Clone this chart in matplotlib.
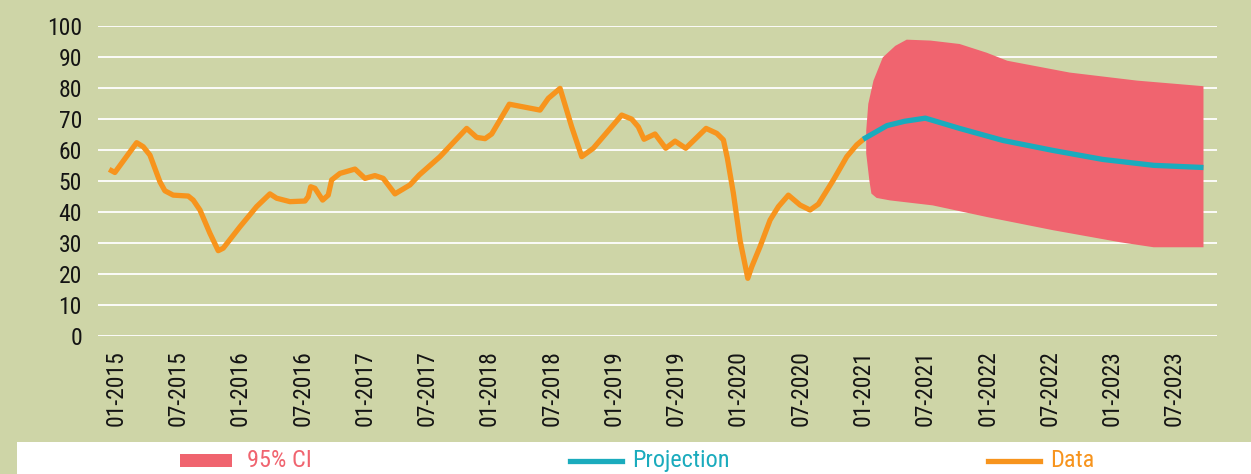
import matplotlib
matplotlib.use("Agg")
import matplotlib.pyplot as plt
from matplotlib import font_manager as fm
from matplotlib.patches import Rectangle
from matplotlib.lines import Line2D
from matplotlib.patheffects import AbstractPathEffect
from matplotlib.transforms import Affine2D

# ── data (months after 01-2015, value) ───────────────────────────────────────
data_month = [-0.65, -0.10, 2.00, 2.63, 3.28, 3.76, 4.24, 4.72, 5.52, 6.97,
              7.45, 8.10, 9.06, 9.86, 10.34, 11.95, 13.56, 14.84, 15.49, 16.77,
              18.22, 18.53, 18.77, 19.18, 19.92, 20.46, 20.79, 21.59, 23.04,
              24.00, 24.96, 25.76, 26.89, 28.34, 29.23, 31.23, 33.80, 34.77,
              35.57, 36.21, 37.91, 40.87, 41.67, 42.80, 43.92, 44.89, 46.00,
              48.74, 49.70, 50.34, 50.89, 51.95, 52.98, 53.88, 54.91, 56.87,
              57.90, 58.54, 58.92, 59.50, 60.14, 60.89, 61.27, 62.07, 63.04,
              63.84, 64.80, 65.93, 66.89, 67.69, 69.14, 70.43, 71.39, 72.03]
data_value = [53.7, 52.7, 62.3, 61.0, 58.3, 54.0, 49.7, 46.8, 45.4, 45.1,
              43.8, 40.6, 33.1, 27.5, 28.3, 35.2, 41.7, 45.8, 44.4, 43.3,
              43.5, 44.9, 48.1, 47.6, 43.8, 45.4, 50.3, 52.4, 53.8,
              50.8, 51.7, 50.8, 45.8, 48.7, 51.9, 57.8, 66.9, 64.0,
              63.6, 65.1, 74.7, 72.8, 76.6, 79.8, 67.4, 57.8, 60.5,
              71.2, 69.9, 67.4, 63.4, 65.1, 60.5, 62.8, 60.5, 66.9,
              65.3, 63.2, 57.3, 46.0, 30.9, 18.6, 22.3, 28.8, 37.4,
              41.7, 45.4, 42.2, 40.6, 42.5, 50.3, 57.8, 61.6, 63.4]

proj_month = [72.0, 74.3, 76.0, 78.0, 81.3, 85.5, 90.3, 95.1, 100.0, 104.8]
proj_value = [63.4, 67.8, 69.2, 70.2, 66.9, 63.0, 59.8, 56.9, 55.0, 54.3]

# 95% CI outline: left edge and upper bound, then lower bound back to the left
ci_upper_month = [72.8, 72.6, 72.3, 72.3, 72.5, 73.0, 73.9, 75.1, 76.2, 78.5,
                  81.3, 83.9, 85.9, 91.9, 98.4, 104.8]
ci_upper_value = [45.9, 50.2, 58.8, 66.2, 74.8, 82.3, 89.8, 93.5, 95.5, 95.2,
                  94.1, 91.3, 88.7, 84.9, 82.3, 80.5]
ci_lower_month = [104.8, 100.0, 96.8, 90.3, 84.0, 78.7, 74.6, 73.3]
ci_lower_value = [28.6, 28.6, 30.2, 34.1, 38.3, 42.1, 43.7, 44.5]

tick_labels = ["01-2015", "07-2015", "01-2016", "07-2016", "01-2017", "07-2017",
               "01-2018", "07-2018", "01-2019", "07-2019", "01-2020", "07-2020",
               "01-2021", "07-2021", "01-2022", "07-2022", "01-2023", "07-2023"]
tick_month = [6 * i for i in range(len(tick_labels))]

# ── style ────────────────────────────────────────────────────────────────────
BG = "#ced5a7"
ORANGE = "#f7941d"
CYAN = "#1aabbd"
RED = "#f0646f"
INK = "#141414"


def condensed_font():
    """Return (family, squeeze factor): a real narrow face if one is installed."""
    names = {f.name for f in fm.fontManager.ttflist}
    for fam in ["Roboto Condensed", "Liberation Sans Narrow", "Open Sans Condensed",
                "Noto Sans Condensed", "Arial Narrow"]:
        if fam in names:
            return fam, 1.0
    return "Liberation Sans", 0.8


class Squeeze(AbstractPathEffect):
    """Narrow the glyphs along the baseline, keeping either end of the text fixed."""

    def __init__(self, sx, keep_end=True):
        super().__init__()
        self.sx = sx
        self.keep_end = keep_end

    def draw_path(self, renderer, gc, tpath, affine, rgbFace=None):
        x0 = tpath.get_extents().x1 if self.keep_end else 0.0
        squeeze = Affine2D().translate(-x0, 0).scale(self.sx, 1).translate(x0, 0)
        renderer.draw_path(gc, tpath, squeeze + affine, rgbFace)


FAMILY, SX = condensed_font()
plt.rcParams["font.family"] = [FAMILY, "DejaVu Sans"]

fig = plt.figure(figsize=(12.51, 4.74), dpi=100, facecolor=BG)
ax = fig.add_axes([0.0783, 0.2911, 0.8945, 0.6547])
ax.set_facecolor(BG)

ax.fill(ci_upper_month + ci_lower_month, ci_upper_value + ci_lower_value,
        color=RED, lw=0, zorder=2)
ax.plot(data_month, data_value, color=ORANGE, lw=3.8,
        solid_joinstyle="round", solid_capstyle="butt", zorder=3)
ax.plot(proj_month, proj_value, color=CYAN, lw=3.8,
        solid_joinstyle="round", solid_capstyle="butt", zorder=4)

ax.set_xlim(-1.73, 106.1)
ax.set_ylim(0, 100)
ax.set_yticks(range(0, 101, 10))
ax.set_xticks(tick_month)
ax.set_xticklabels(tick_labels, rotation=90)
ax.tick_params(axis="both", labelsize=17, length=0, labelcolor=INK)
ax.tick_params(axis="y", pad=11.5)
ax.tick_params(axis="x", pad=10.5)
if SX < 1:
    for lab in ax.get_xticklabels() + ax.get_yticklabels():
        lab.set_path_effects([Squeeze(SX, keep_end=True)])
ax.grid(axis="y", color="white", lw=1.3, zorder=1)
ax.set_axisbelow(True)
for s in ax.spines.values():
    s.set_visible(False)

# ── legend strip at the bottom ───────────────────────────────────────────────
W, H = 1251, 474
fig.add_artist(Rectangle((17 / W, 0), 1 - 17 / W, 32 / H,
                         transform=fig.transFigure, facecolor="white", lw=0))
ly = 1 - 460.5 / H
fig.add_artist(Rectangle((180 / W, 1 - 467 / H), 52 / W, 13 / H,
                         transform=fig.transFigure, facecolor=RED, lw=0))
fig.add_artist(Line2D([570 / W, 622 / W], [ly, ly], transform=fig.transFigure,
                      color=CYAN, lw=3.8))
fig.add_artist(Line2D([988 / W, 1040 / W], [ly, ly], transform=fig.transFigure,
                      color=ORANGE, lw=3.8))
for x, txt, col in [(247, "95% CI", RED), (632, "Projection", CYAN),
                    (1050, "Data", ORANGE)]:
    t = fig.text(x / W, ly, txt, color=col, fontsize=17.5, va="center")
    if SX < 1:
        t.set_path_effects([Squeeze(SX + 0.05, keep_end=False)])

fig.savefig("out.png", dpi=100, facecolor=BG)
